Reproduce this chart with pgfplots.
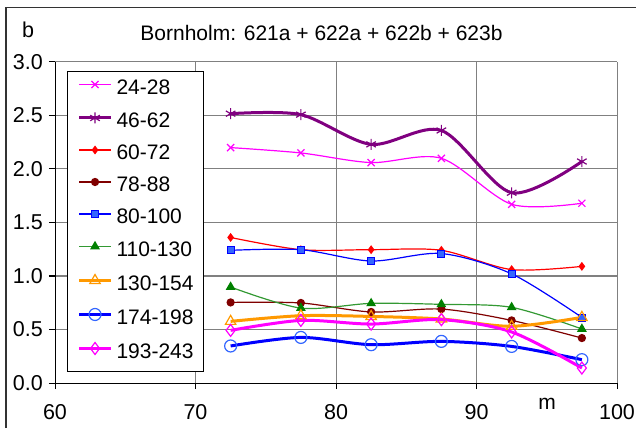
\documentclass[border=0pt]{standalone}
\usepackage{fontspec}
\setmainfont{Liberation Sans}
\usepackage{pgfplots}
\pgfplotsset{compat=1.18}
\definecolor{cMag}{HTML}{FF00FF}
\definecolor{cPur}{HTML}{800080}
\definecolor{cRed}{HTML}{FF0000}
\definecolor{cDRed}{HTML}{800000}
\definecolor{cBlue}{HTML}{0000FF}
\definecolor{cLBlue}{HTML}{3366FF}
\definecolor{cGreen}{HTML}{008000}
\definecolor{cLGreen}{HTML}{339933}
\definecolor{cOrange}{HTML}{FF9900}
\definecolor{cGrid}{HTML}{808080}
\begin{document}
\begin{tikzpicture}
\useasboundingbox (0pt,0pt) rectangle (636pt,428pt);
\draw[line width=1.3pt, black!80] (6pt,0pt) -- (6pt,420.5pt) -- (636pt,420.5pt);
\node[anchor=base, font=\fontsize{21}{24}\selectfont, inner sep=0pt] at (321.5pt,387pt) {Bornholm: 621a + 622a + 622b + 623b};
\node[anchor=base, font=\fontsize{21.5}{24}\selectfont, inner sep=0pt] at (28pt,390pt) {b};
\node[anchor=base, font=\fontsize{21}{24}\selectfont, inner sep=0pt] at (547pt,18.7pt) {m};
\begin{axis}[
  at={(55pt,45pt)}, anchor=south west,
  scale only axis, width=562pt, height=321pt,
  xmin=60, xmax=100, ymin=0, ymax=3,
  xtick={60,70,80,90,100},
  ytick={0,0.5,1,1.5,2,2.5,3},
  axis lines=left,
  axis line style={black, line width=1pt, -},
  grid=major,
  major grid style={cGrid, line width=1pt},
  tick align=outside,
  major tick length=6pt,
  tick style={black, line width=1pt},
  /pgf/number format/assume math mode=true,
  ticklabel style={font=\fontsize{21.5}{24}\selectfont},
  xticklabel style={anchor=north, inner sep=0pt, yshift=-15pt},
  yticklabel style={anchor=east, inner sep=0pt, xshift=-6pt, /pgf/number format/fixed, /pgf/number format/fixed zerofill, /pgf/number format/precision=1},
  legend style={at={(0.0214,0.972)}, anchor=north west, draw=black, line width=1pt, fill=white,
    font=\fontsize{21}{24}\selectfont, inner xsep=10pt, inner ysep=9pt,
    row sep=14pt, column sep=4pt,
    nodes={inner sep=0pt, text height=14pt, text depth=4pt}},
  legend cell align=left,
  legend image code/.code={\draw[mark repeat=2,mark phase=2,#1] plot coordinates {(0pt,5pt) (16pt,5pt) (32pt,5pt)};},
]
\addplot[cMag, line width=1.2pt, smooth, mark=x, mark size=5pt] coordinates {
(72.5,2.20) (77.5,2.15) (82.5,2.06) (87.5,2.10) (92.5,1.67) (97.5,1.68)};
\addlegendentry{24-28}
\addplot[cPur, line width=3pt, smooth, mark=asterisk, mark size=5.5pt, mark options={line width=1.2pt}] coordinates {
(72.5,2.517) (77.5,2.508) (82.5,2.23) (87.5,2.36) (92.5,1.778) (97.5,2.07)};
\addlegendentry{46-62}
\addplot[cRed, line width=1.2pt, smooth, mark=diamond*, mark size=3.5pt] coordinates {
(72.5,1.36) (77.5,1.246) (82.5,1.246) (87.5,1.24) (92.5,1.06) (97.5,1.09)};
\addlegendentry{60-72}
\addplot[cDRed, line width=1.2pt, smooth, mark=*, mark size=3.5pt] coordinates {
(72.5,0.753) (77.5,0.748) (82.5,0.664) (87.5,0.691) (92.5,0.585) (97.5,0.42)};
\addlegendentry{78-88}
\addplot[cBlue, line width=1.2pt, smooth, mark=square*, mark size=3.5pt, mark options={fill=cLBlue, draw=cBlue, line width=0.8pt}] coordinates {
(72.5,1.24) (77.5,1.246) (82.5,1.14) (87.5,1.21) (92.5,1.02) (97.5,0.613)};
\addlegendentry{80-100}
\addplot[cLGreen, line width=1.2pt, smooth, mark=triangle*, mark size=4.5pt, mark options={fill=cGreen, draw=cGreen}] coordinates {
(72.5,0.897) (77.5,0.70) (82.5,0.744) (87.5,0.735) (92.5,0.707) (97.5,0.505)};
\addlegendentry{110-130}
\addplot[cOrange, line width=3pt, smooth, mark=triangle, mark size=6pt, mark options={line width=1.2pt, fill=none}] coordinates {
(72.5,0.576) (77.5,0.629) (82.5,0.622) (87.5,0.598) (92.5,0.53) (97.5,0.613)};
\addlegendentry{130-154}
\addplot[cBlue, line width=3pt, smooth, mark=o, mark size=6pt, mark options={line width=1.2pt, draw=cLBlue}] coordinates {
(72.5,0.346) (77.5,0.426) (82.5,0.358) (87.5,0.389) (92.5,0.342) (97.5,0.218)};
\addlegendentry{174-198}
\addplot[cMag, line width=3pt, smooth, mark=diamond, mark size=6pt, mark options={line width=1.2pt}] coordinates {
(72.5,0.492) (77.5,0.585) (82.5,0.551) (87.5,0.592) (92.5,0.477) (97.5,0.14)};
\addlegendentry{193-243}
\end{axis}
\end{tikzpicture}
\end{document}
